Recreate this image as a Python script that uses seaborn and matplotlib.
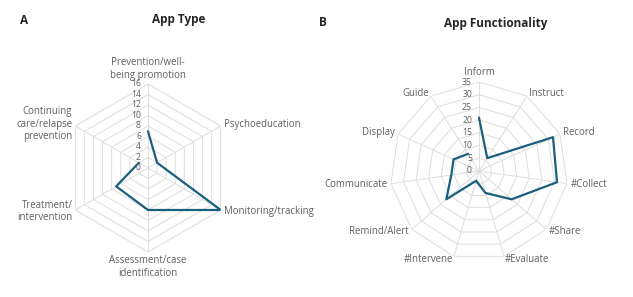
import numpy as np
import matplotlib
matplotlib.use("Agg")
import matplotlib.pyplot as plt
import matplotlib.transforms as mtransforms
import seaborn as sns

# Data
type_labels = ["Prevention/well-\nbeing promotion", "Psychoeducation", "Monitoring/tracking",
               "Assessment/case\nidentification", "Treatment/\nintervention",
               "Continuing\ncare/relapse\nprevention"]
type_values = [7, 2, 16, 8, 7, 2]
type_ticks = [0, 2, 4, 6, 8, 10, 12, 14, 16]

func_labels = ["Inform", "Instruct", "Record", "#Collect", "#Share", "#Evaluate",
               "#Intervene", "Remind/Alert", "Communicate", "Display", "Guide"]
func_values = [21, 6, 32, 31, 17, 9, 4, 17, 11, 11, 8]
func_ticks = [0, 5, 10, 15, 20, 25, 30, 35]

sns.set_style("white")
plt.rcParams['font.family'] = ['Open Sans', 'DejaVu Sans']

LINE = "#1C5E7E"
GRID = "#DDDDDD"
TXT = "#5F5F5F"


def radar(fig, rect, labels, values, ticks, fs):
    ax = fig.add_axes(rect, projection="polar")
    n = len(labels)
    ang = np.arange(n) * 2 * np.pi / n
    ax.set_theta_offset(np.pi / 2)
    ax.set_theta_direction(-1)
    rmax = ticks[-1]
    ax.set_ylim(0, rmax)
    ax.grid(False)
    ax.spines["polar"].set_visible(False)
    ax.set_xticks([])
    ax.set_yticks([])
    ax.patch.set_alpha(0)

    closed = np.append(ang, ang[0])
    # polygon grid rings
    for t in ticks[1:]:
        ax.plot(closed, [t] * (n + 1), color=GRID, lw=0.7, zorder=1)
    for a in ang:
        ax.plot([a, a], [0, rmax], color=GRID, lw=0.7, zorder=1)

    sns.lineplot(x=closed, y=np.append(values, values[0]), sort=False, ax=ax,
                 color=LINE, lw=1.6, zorder=3)
    ax.set_xlabel("")
    ax.set_ylabel("")

    # value labels along the first axis
    off = mtransforms.ScaledTranslation(-0.07, 0, fig.dpi_scale_trans)
    for t in ticks:
        ax.text(0, t, str(t), ha="right", va="center", fontsize=6.2, color=TXT,
                transform=ax.transData + off, zorder=4)

    # category labels
    for a, lab in zip(ang, labels):
        s = np.sin(a)
        c = np.cos(a)
        if abs(s) < 0.05:
            ha = "center"
            va = "bottom" if c > 0 else "top"
        else:
            ha = "left" if s > 0 else "right"
            va = "center"
        ax.text(a, rmax * 1.04, lab, ha=ha, va=va, fontsize=fs, color=TXT,
                linespacing=1.2)
    return ax


fig = plt.figure(figsize=(6.33, 2.97), dpi=100)

radar(fig, [0.1011, 0.1515, 0.2654, 0.5657], type_labels, type_values, type_ticks, 6.9)
radar(fig, [0.6161, 0.1246, 0.2812, 0.5993], func_labels, func_values, func_ticks, 6.9)

fig.text(20 / 633, 1 - 20 / 297, "A", fontsize=8.5, fontweight="bold", va="center")
fig.text(179 / 633, 1 - 20 / 297, "App Type", fontsize=8.5, fontweight="bold",
         ha="center", va="center")
fig.text(319 / 633, 1 - 22 / 297, "B", fontsize=8.5, fontweight="bold", va="center")
fig.text(496 / 633, 1 - 23 / 297, "App Functionality", fontsize=8.5, fontweight="bold",
         ha="center", va="center")

fig.savefig("out.png", dpi=100)
